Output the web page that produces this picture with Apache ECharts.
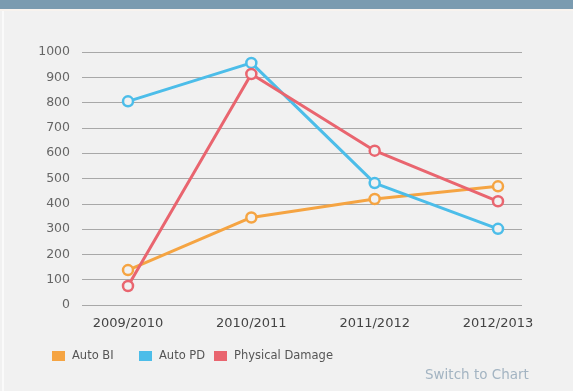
<!DOCTYPE html>
<html><head><meta charset="utf-8">
<style>html,body{margin:0;padding:0;background:#f1f1f1;}#c{width:573px;height:391px;}</style>
<script src="https://cdn.jsdelivr.net/npm/echarts@6/dist/echarts.min.js"></script>
</head><body><div id="c"></div>
<script>
var categories = ['2009/2010', '2010/2011', '2011/2012', '2012/2013'];
var autoBI = [138, 346, 419, 469];
var autoPD = [805, 957, 482, 301];
var physicalDamage = [75, 913, 610, 410];
var seriesNames = ['Auto BI', 'Auto PD', 'Physical Damage'];
var colors = ['#f5a442', '#4cbde9', '#e9656f'];

var chart = echarts.init(document.getElementById('c'));
var font = 'DejaVu Sans';
function mk(name, data, color) {
  return {
    name: name, type: 'line', data: data, xAxisIndex: 1, yAxisIndex: 1,
    symbol: 'circle', symbolSize: 10,
    lineStyle: { color: color, width: 3 },
    itemStyle: { color: '#f1f1f1', borderColor: color, borderWidth: 2.5 },
    emphasis: { disabled: true }, animation: false
  };
}
function lg(i, left) {
  return {
    left: left, top: 345, data: [{ name: seriesNames[i], itemStyle: { color: colors[i], borderWidth: 0 } }], icon: 'rect',
    itemWidth: 13, itemHeight: 10, itemGap: 0,
    textStyle: { fontFamily: font, fontSize: 11.5, color: '#555', padding: [0, 0, 0, 2] }
  };
}
chart.setOption({
  backgroundColor: '#f1f1f1',
  color: colors,
  animation: false,
  graphic: [
    { type: 'rect', shape: { x: 0, y: 0, width: 573, height: 9 }, style: { fill: '#7a9bb0' } },
    { type: 'rect', shape: { x: 0, y: 9, width: 573, height: 2 }, style: { fill: '#f8f3ee' } },
    { type: 'rect', shape: { x: 2, y: 11, width: 2, height: 380 }, style: { fill: '#fafafa' } },
    { type: 'text', left: 425, top: 368, style: { text: 'Switch to Chart', fontFamily: font, fontSize: 13.5, fill: '#a3b4c2' } }
  ],
  legend: [lg(0, 47), lg(1, 134), lg(2, 209)],
  grid: [
    { left: 82, right: 51, top: 52, bottom: 86 },
    { left: 128, right: 75, top: 52, bottom: 86 }
  ],
  xAxis: [
    { type: 'category', gridIndex: 0, data: categories, show: false },
    { type: 'category', gridIndex: 1, data: categories, boundaryGap: false,
      axisLine: { show: false }, axisTick: { show: false },
      axisLabel: { fontFamily: font, fontSize: 13, color: '#444', margin: 12 } }
  ],
  yAxis: [
    { type: 'value', gridIndex: 0, min: 0, max: 1000, interval: 100,
      axisLine: { show: false }, axisTick: { show: false },
      axisLabel: { fontFamily: font, fontSize: 12.5, color: '#666', margin: 12, formatter: function (v) { return String(v); } },
      splitLine: { lineStyle: { color: '#a8a8a8', width: 1 } } },
    { type: 'value', gridIndex: 1, min: 0, max: 1000, interval: 100, show: false, splitLine: { show: false } }
  ],
  series: [
    mk(seriesNames[0], autoBI, colors[0]),
    mk(seriesNames[1], autoPD, colors[1]),
    mk(seriesNames[2], physicalDamage, colors[2])
  ]
});
</script></body></html>
